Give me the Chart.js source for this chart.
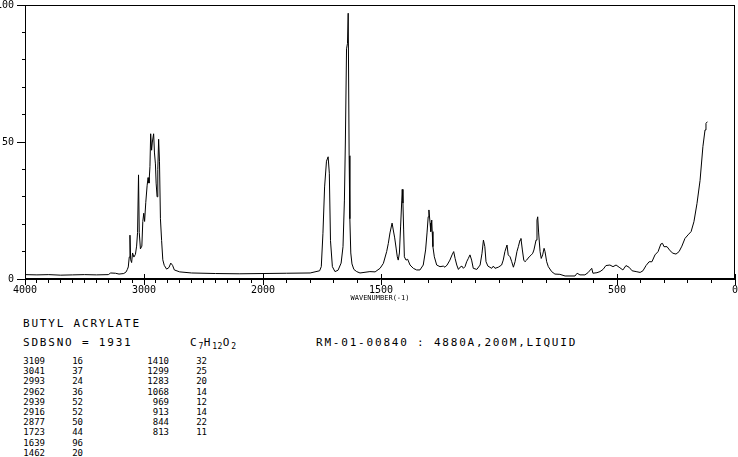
<!DOCTYPE html>
<html>
<head>
<meta charset="utf-8">
<script src="https://cdn.jsdelivr.net/npm/chart.js@4.4.1/dist/chart.umd.min.js"></script>
<style>
  body { margin: 0; background: #fff; }
  #wrap { position: relative; width: 738px; height: 457px; background: #fff; overflow: hidden; }
  #plot { position: absolute; left: 0; top: 0; width: 738px; height: 302px; }
  .txt { position: absolute; font-family: "DejaVu Sans Mono", monospace; color: #000; white-space: pre; }
  .big { font-size: 11px; line-height: 11px; letter-spacing: 1.8px; }
  .small { font-size: 9px; line-height: 9px; }
  .sub { font-size: 8px; position: relative; top: 3px; letter-spacing: 0.5px; }
</style>
</head>
<body>
<div id="wrap">
  <div id="plot"><canvas id="ramanChart"></canvas></div>
</div>
<script>
// spectrum trace (wavenumber in cm-1, intensity 0-100)
const wavenumbers = [
  4000, 3900, 3800, 3700, 3600, 3500, 3400, 3300, 3280, 3240, 3210, 3170, 3150, 3140, 3132,
  3124, 3118, 3112, 3104, 3096, 3085, 3072, 3062, 3054, 3046, 3040, 3030, 3018, 3010, 3002,
  2995, 2985, 2974, 2966, 2958, 2950, 2944, 2936, 2930, 2919, 2912, 2904, 2898, 2890, 2884,
  2877, 2870, 2862, 2852, 2842, 2830, 2810, 2790, 2775, 2760, 2745, 2700, 2600, 2400, 2200,
  2000, 1900, 1800, 1760, 1753, 1746, 1739, 1731, 1724, 1719, 1714, 1706, 1695, 1682, 1669,
  1661, 1655, 1651, 1646, 1642, 1639, 1635, 1632, 1628, 1623, 1615, 1603, 1589, 1547, 1525,
  1504, 1490, 1476, 1469, 1462, 1453, 1448, 1442, 1436, 1431, 1427, 1422, 1417, 1412, 1410,
  1407, 1404, 1401, 1394, 1387, 1377, 1363, 1349, 1335, 1321, 1311, 1305, 1300, 1297, 1292,
  1289, 1285, 1283, 1280, 1274, 1264, 1250, 1236, 1229, 1220, 1208, 1199, 1192, 1186, 1179,
  1172, 1165, 1157, 1151, 1144, 1137, 1130, 1123, 1116, 1109, 1094, 1080, 1072, 1066, 1060,
  1055, 1047, 1031, 1024, 1017, 1003, 989, 982, 975, 966, 961, 953, 946, 939, 932,
  924, 918, 911, 907, 901, 895, 890, 883, 872, 863, 857, 852, 843, 839, 836,
  832, 826, 821, 815, 809, 805, 798, 791, 777, 763, 742, 720, 678, 669, 657,
  636, 623, 607, 602, 585, 572, 559, 547, 530, 517, 504, 491, 475, 462, 449,
  436, 419, 402, 390, 377, 364, 352, 339, 326, 314, 307, 301, 288, 275, 263,
  250, 237, 225, 212, 199, 186, 174, 161, 148, 136, 127, 123, 117
];
const intensities = [
  1.6, 1.5, 1.6, 1.4, 1.5, 1.6, 1.5, 1.6, 2.2, 2.1, 1.8, 2.0, 2.6, 3.5, 4.4,
  8, 16, 7, 6, 9.5, 8, 9, 12, 17, 38, 17, 11, 12, 21, 24,
  21, 28, 34, 37, 35, 41, 53, 47, 50, 53, 46, 42, 35, 30, 40,
  51, 43, 22, 14, 7, 5, 3.6, 4.2, 5.8, 5, 3.3, 2.6, 2.2, 2.0, 1.9,
  2.0, 2.1, 2.2, 3, 4.5, 16.7, 33.6, 43, 44.6, 38.6, 14, 4.5, 2.7, 3.2, 5.8,
  11.8, 28.8, 50, 84, 86, 97, 45, 22, 9.5, 5.5, 3.5, 2.7, 2.2, 2.7, 2.6,
  3.9, 5.7, 10, 13, 16.8, 20.4, 17.9, 15, 11.3, 8.1, 6.9, 9.5, 19, 28.8, 32.7,
  27.7, 17.9, 8.1, 6.9, 7.2, 5.1, 3.9, 3.3, 3.3, 5.1, 10.6, 16.8, 22.7, 25.2, 20.4,
  17.3, 21.5, 17.3, 11.8, 8.1, 5.1, 4.5, 4.7, 4.3, 5.1, 6.9, 8.8, 10, 7.5, 5.1,
  3.5, 4.3, 4.7, 3.9, 4.5, 6.3, 7.5, 8.8, 6.9, 3.9, 3.5, 5.1, 9.4, 14.2, 11.8,
  6.3, 4.7, 3.9, 4.7, 3.9, 4.3, 5.1, 6.9, 10, 12.4, 8.8, 8.1, 6.3, 4.3, 6.3,
  10, 11.8, 14.2, 14.8, 10.6, 6.9, 6.3, 6.9, 8.1, 8.8, 9.4, 10.6, 14.2, 21.5, 22.7,
  16.8, 10, 7.5, 8.8, 11.2, 10, 6.3, 4.5, 2.7, 1.8, 1.7, 1.1, 1.1, 2.1, 1.5,
  1.5, 2.3, 3.9, 2.1, 2.3, 2.7, 3.5, 4.9, 5.1, 4.5, 5.1, 4.3, 3.3, 4.9, 4.3,
  3, 2.7, 2.4, 3, 4.9, 6.3, 6.3, 8.8, 10, 12.8, 13, 11.8, 11.8, 10.3, 9.4,
  9.1, 10, 12, 14.8, 16.1, 17.3, 20.9, 27.6, 36, 48.3, 54.4, 56.8, 57.4
];

// axis ticks
const xTickWaves = [];
for (let w = 4000; w >= 0; w -= 100) xTickWaves.push(w);
const xLabelWaves = [4000, 3000, 2000, 1500, 500, 0];
const yLabelValues = [0, 50, 100];

// peak table
const peakWaves = [3109, 3041, 2993, 2962, 2939, 2916, 2877, 1723, 1639, 1462,
                   1410, 1299, 1283, 1068, 969, 913, 844, 813];
const peakValues = [16, 37, 24, 36, 52, 52, 50, 44, 96, 20,
                    32, 25, 20, 14, 12, 14, 22, 11];

// the plot uses half scale above 2000 cm-1, full scale below
// (4000-2000 takes 238 of the 710 px, 2000-0 the other 472)
const breakUnits = 3000 * 238 / 710;
function toAxis(w) {
  return w >= 2000 ? (4000 - w) / 2000 * breakUnits
                   : breakUnits + (2000 - w) / 2000 * (3000 - breakUnits);
}
function fromAxis(u) {
  return u <= breakUnits ? Math.round(4000 - u / breakUnits * 2000)
                         : Math.round(2000 - (u - breakUnits) / (3000 - breakUnits) * 2000);
}

const monoFont = 'DejaVu Sans Mono';

const frameAndMajorTicks = {
  id: 'frameAndMajorTicks',
  afterDraw(chart) {
    const { ctx, chartArea, scales } = chart;
    ctx.save();
    ctx.strokeStyle = '#000';
    ctx.lineWidth = 1;
    ctx.strokeRect(chartArea.left + 0.5, chartArea.top + 0.5,
                   chartArea.right - chartArea.left - 1, chartArea.bottom - chartArea.top - 1);
    ctx.beginPath();
    xLabelWaves.forEach(w => {
      const px = Math.round(scales.x.getPixelForValue(toAxis(w))) + 0.5;
      ctx.moveTo(px, chartArea.bottom - 5);
      ctx.lineTo(px, chartArea.bottom + 6);
    });
    yLabelValues.forEach(v => {
      const py = Math.round(scales.y.getPixelForValue(v)) + 0.5;
      ctx.moveTo(chartArea.left - 8, py);
      ctx.lineTo(chartArea.left, py);
    });
    ctx.stroke();
    ctx.restore();
  }
};

const ctx = document.getElementById('ramanChart').getContext('2d');
const chart = new Chart(ctx, {
  type: 'line',
  data: {
    datasets: [{
      data: wavenumbers.map((w, i) => ({ x: toAxis(w), y: intensities[i] })),
      borderColor: '#000',
      borderWidth: 1,
      pointRadius: 0,
      tension: 0,
      fill: false
    }]
  },
  options: {
    responsive: true,
    maintainAspectRatio: false,
    animation: false,
    devicePixelRatio: 1,
    layout: { padding: { top: 5, right: 3, left: 0, bottom: 0 } },
    plugins: { legend: { display: false }, tooltip: { enabled: false } },
    scales: {
      x: {
        type: 'linear',
        min: 0,
        max: 3000,
        afterFit: s => { s.height = 23; s.paddingLeft = 0; s.paddingRight = 0; },
        afterBuildTicks: s => { s.ticks = xTickWaves.map(w => ({ value: toAxis(w) })); },
        grid: { drawOnChartArea: false, drawTicks: true, tickLength: 4, color: '#000' },
        border: { color: '#000' },
        ticks: {
          autoSkip: false,
          maxRotation: 0,
          padding: 2,
          color: '#000',
          font: { family: monoFont, size: 10, lineHeight: 1 },
          callback: v => {
            const w = fromAxis(v);
            return xLabelWaves.includes(w) ? String(w) : '';
          }
        },
        title: {
          display: true,
          text: 'WAVENUMBER(-1)',
          color: '#000',
          padding: 0,
          font: { family: monoFont, size: 7, lineHeight: 1 }
        }
      },
      y: {
        min: 0,
        max: 100,
        afterFit: s => { s.width = 25; s.paddingTop = 0; s.paddingBottom = 0; },
        grid: { drawOnChartArea: false, drawTicks: true, tickLength: 3, color: '#000' },
        border: { color: '#000' },
        ticks: {
          stepSize: 10,
          autoSkip: false,
          padding: 8,
          color: '#000',
          font: { family: monoFont, size: 10, lineHeight: 1 },
          callback: v => (yLabelValues.includes(v) ? String(v) : '')
        }
      }
    }
  },
  plugins: [frameAndMajorTicks]
});

// header lines and peak table below the plot
const wrap = document.getElementById('wrap');
function addText(cls, left, top, html, width, align) {
  const d = document.createElement('div');
  d.className = 'txt ' + cls;
  d.style.left = left + 'px';
  d.style.top = top + 'px';
  if (width) { d.style.width = width + 'px'; d.style.textAlign = align; }
  d.innerHTML = html;
  wrap.appendChild(d);
}
addText('big', 23, 318, 'BUTYL ACRYLATE');
addText('big', 23, 337, 'SDBSNO = 1931');
addText('big', 190, 337, 'C<span class="sub">7</span>H<span class="sub">12</span>O<span class="sub">2</span>');
addText('big', 316, 337, 'RM-01-00840 : 4880A,200M,LIQUID');

const rowsPerCol = 10;
peakWaves.forEach((w, i) => {
  const col = Math.floor(i / rowsPerCol);
  const row = i % rowsPerCol;
  const top = 357 + row * 10.2;
  addText('small', 23 + col * 124, top, String(w), 22, 'right');
  addText('small', 72 + col * 124, top, String(peakValues[i]), 11, 'right');
});
</script>
</body>
</html>
